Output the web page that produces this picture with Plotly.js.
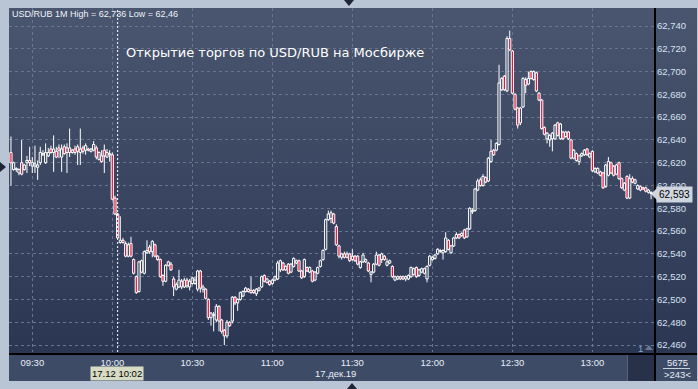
<!DOCTYPE html>
<html><head><meta charset="utf-8">
<script src="https://cdn.plot.ly/plotly-3.0.1.min.js"></script>
<style>
body{margin:0;background:#b9c4d4;}
#wrap{position:relative;width:698px;height:389px;overflow:hidden;background:#b9c4d4;}
.bg{position:absolute;}
#chart{position:absolute;left:0;top:0;width:698px;height:389px;}
</style></head><body>
<div id="wrap">
 <div class="bg" style="left:9px;top:8px;width:645px;height:345px;background:linear-gradient(#4a566f,#2b3653);"></div>
 <div class="bg" style="left:656px;top:8px;width:41px;height:345px;background:linear-gradient(#4a566f,#2b3653);"></div>
 <div class="bg" style="left:9px;top:355px;width:688px;height:26px;background:#3e4b66;"></div>
 <div class="bg" style="left:627px;top:355px;width:27px;height:26px;background:#27314a;border-left:1px solid #56627a;"></div>
 <div class="bg" style="left:654px;top:8px;width:2px;height:373px;background:#000;"></div>
 <div class="bg" style="left:9px;top:353px;width:688px;height:2px;background:#000;"></div>
 <div class="bg" style="left:663px;top:368px;width:27px;height:1px;background:#c9d3e0;"></div>
 <div class="bg" style="left:0px;top:162px;width:0;height:0;border-top:5px solid transparent;border-bottom:5px solid transparent;border-left:6px solid #1d2536;"></div>
 <div class="bg" style="left:344px;top:0px;width:0;height:0;border-left:5px solid transparent;border-right:5px solid transparent;border-top:6px solid #1d2536;"></div>
 <div class="bg" style="left:347px;top:383px;width:0;height:0;border-left:5px solid transparent;border-right:5px solid transparent;border-bottom:6px solid #1d2536;"></div>
 <div class="bg" style="left:645px;top:345px;width:0;height:0;border-left:4px solid transparent;border-right:4px solid transparent;border-bottom:5px solid #6a7690;"></div>
 <div class="bg" style="left:651px;top:187px;width:0;height:0;border-top:7px solid transparent;border-bottom:7px solid transparent;border-right:7px solid #cfd5de;"></div>
 <div id="chart"></div>
</div>
<script>
// ---- data (1-minute candles, USD/RUB, 17.12.2019) ----
const sessionDate = '2019-12-17';
const firstMinute = '09:22';
const open = [62.629,62.614,62.614,62.611,62.620,62.614,62.620,62.622,62.617,62.617,62.616,62.620,62.627,62.620,62.626,62.632,62.629,62.630,62.633,62.625,
62.634,62.629,62.633,62.629,62.632,62.634,62.629,62.633,62.631,62.632,62.630,62.631,62.633,62.623,62.626,62.631,62.625,62.627,62.627,62.589,
62.575,62.550,62.552,62.549,62.538,62.549,62.535,62.520,62.507,62.524,62.523,62.541,62.546,62.542,62.548,62.538,62.535,62.521,62.516,62.530,
62.531,62.518,62.509,62.511,62.516,62.511,62.517,62.511,62.514,62.514,62.509,62.525,62.509,62.509,62.500,62.484,62.486,62.482,62.494,62.482,
62.473,62.468,62.480,62.481,62.502,62.497,62.500,62.503,62.507,62.509,62.506,62.508,62.505,62.508,62.511,62.521,62.515,62.516,62.514,62.517,
62.518,62.526,62.532,62.526,62.531,62.524,62.529,62.532,62.534,62.525,62.520,62.528,62.524,62.525,62.517,62.523,62.529,62.535,62.544,62.570,
62.571,62.575,62.564,62.547,62.537,62.540,62.537,62.540,62.535,62.538,62.538,62.528,62.533,62.533,62.532,62.522,62.524,62.531,62.539,62.535,
62.538,62.530,62.532,62.529,62.517,62.518,62.520,62.518,62.518,62.518,62.520,62.522,62.528,62.521,62.524,62.523,62.518,62.530,62.535,62.536,
62.540,62.543,62.541,62.542,62.552,62.541,62.547,62.554,62.557,62.556,62.561,62.555,62.562,62.577,62.578,62.596,62.605,62.600,62.607,62.604,
62.621,62.631,62.631,62.636,62.684,62.696,62.683,62.729,62.718,62.680,62.668,62.655,62.669,62.693,62.689,62.700,62.693,62.699,62.681,62.675,
62.651,62.641,62.640,62.641,62.641,62.655,62.641,62.647,62.643,62.647,62.640,62.624,62.628,62.621,62.626,62.627,62.632,62.625,62.630,62.612,
62.611,62.612,62.611,62.599,62.609,62.620,62.617,62.610,62.620,62.606,62.596,62.608,62.589,62.606,62.602,62.597,62.599,62.597,62.598,62.594,
62.594];
const high = [62.643,62.621,62.616,62.615,62.640,62.619,62.626,62.634,62.625,62.635,62.622,62.634,62.631,62.637,62.633,62.635,62.644,62.634,62.636,62.636,
62.636,62.637,62.650,62.632,62.635,62.636,62.650,62.635,62.637,62.633,62.633,62.639,62.635,62.630,62.631,62.636,62.632,62.631,62.629,62.591,
62.576,62.573,62.554,62.551,62.550,62.555,62.536,62.521,62.534,62.535,62.543,62.552,62.548,62.552,62.549,62.539,62.536,62.522,62.531,62.534,
62.533,62.520,62.515,62.526,62.518,62.519,62.519,62.518,62.520,62.520,62.526,62.526,62.513,62.510,62.501,62.489,62.489,62.496,62.495,62.483,
62.474,62.482,62.481,62.503,62.503,62.501,62.507,62.508,62.511,62.510,62.520,62.509,62.510,62.511,62.521,62.522,62.519,62.517,62.518,62.521,
62.534,62.535,62.533,62.530,62.532,62.532,62.537,62.535,62.535,62.526,62.536,62.529,62.529,62.526,62.525,62.529,62.535,62.544,62.571,62.578,
62.578,62.576,62.566,62.548,62.541,62.542,62.542,62.541,62.544,62.539,62.539,62.534,62.541,62.536,62.533,62.525,62.532,62.542,62.540,62.541,
62.539,62.536,62.535,62.530,62.521,62.521,62.521,62.521,62.521,62.522,62.529,62.528,62.529,62.527,62.528,62.528,62.530,62.539,62.538,62.540,
62.545,62.544,62.544,62.559,62.553,62.548,62.555,62.559,62.558,62.559,62.562,62.563,62.581,62.580,62.598,62.606,62.607,62.610,62.608,62.625,
62.640,62.632,62.638,62.706,62.695,62.697,62.731,62.736,62.719,62.681,62.669,62.669,62.695,62.695,62.700,62.701,62.701,62.700,62.682,62.676,
62.652,62.647,62.645,62.647,62.654,62.656,62.655,62.648,62.648,62.648,62.641,62.632,62.629,62.627,62.629,62.632,62.633,62.629,62.631,62.616,
62.616,62.613,62.612,62.619,62.625,62.621,62.618,62.619,62.621,62.607,62.603,62.609,62.610,62.608,62.606,62.601,62.600,62.599,62.599,62.597,
62.595];
const low = [62.600,62.613,62.612,62.609,62.609,62.613,62.611,62.617,62.611,62.611,62.605,62.618,62.626,62.619,62.625,62.628,62.612,62.624,62.624,62.612,
62.627,62.611,62.625,62.628,62.627,62.618,62.618,62.628,62.627,62.630,62.629,62.630,62.623,62.622,62.620,62.611,62.624,62.621,62.587,62.574,
62.553,62.549,62.549,62.537,62.537,62.537,62.522,62.505,62.506,62.523,62.522,62.540,62.540,62.537,62.537,62.534,62.519,62.512,62.515,62.529,
62.525,62.503,62.508,62.510,62.509,62.510,62.510,62.508,62.513,62.513,62.507,62.506,62.506,62.500,62.482,62.477,62.472,62.480,62.472,62.470,
62.460,62.466,62.476,62.479,62.495,62.490,62.499,62.502,62.506,62.506,62.505,62.505,62.503,62.507,62.510,62.515,62.514,62.512,62.513,62.516,
62.517,62.524,62.525,62.525,62.522,62.523,62.528,62.531,62.524,62.518,62.519,62.524,62.523,62.515,62.516,62.522,62.528,62.534,62.543,62.569,
62.567,62.566,62.547,62.536,62.535,62.536,62.536,62.533,62.534,62.533,62.530,62.527,62.532,62.532,62.524,62.515,62.523,62.530,62.529,62.532,
62.534,62.529,62.531,62.519,62.516,62.517,62.517,62.517,62.516,62.517,62.519,62.521,62.519,62.520,62.523,62.522,62.515,62.529,62.534,62.535,
62.539,62.541,62.535,62.541,62.543,62.540,62.546,62.553,62.553,62.555,62.553,62.554,62.561,62.575,62.577,62.595,62.599,62.599,62.602,62.603,
62.620,62.626,62.630,62.635,62.683,62.683,62.682,62.718,62.680,62.666,62.650,62.653,62.668,62.681,62.688,62.693,62.692,62.682,62.674,62.649,
62.644,62.637,62.634,62.630,62.640,62.643,62.640,62.640,62.642,62.640,62.623,62.623,62.621,62.618,62.625,62.626,62.626,62.624,62.612,62.611,
62.610,62.608,62.597,62.598,62.608,62.610,62.608,62.609,62.605,62.597,62.595,62.588,62.588,62.602,62.601,62.596,62.595,62.596,62.594,62.593,
62.588];
const close = [62.620,62.620,62.615,62.614,62.610,62.618,62.622,62.620,62.620,62.619,62.618,62.629,62.628,62.629,62.629,62.629,62.632,62.625,62.631,62.632,
62.628,62.633,62.629,62.631,62.629,62.630,62.632,62.630,62.635,62.631,62.632,62.636,62.625,62.629,62.621,62.626,62.629,62.628,62.588,62.575,
62.554,62.552,62.550,62.538,62.548,62.538,62.523,62.506,62.533,62.534,62.542,62.543,62.542,62.551,62.538,62.535,62.520,62.516,62.530,62.533,
62.526,62.511,62.513,62.517,62.511,62.517,62.512,62.516,62.519,62.517,62.525,62.510,62.511,62.501,62.484,62.488,62.487,62.494,62.481,62.472,
62.468,62.480,62.477,62.502,62.497,62.500,62.506,62.507,62.510,62.507,62.508,62.506,62.509,62.510,62.520,62.516,62.518,62.513,62.517,62.520,
62.532,62.534,62.526,62.529,62.523,62.531,62.536,62.534,62.525,62.519,62.535,62.525,62.528,62.516,62.524,62.528,62.534,62.543,62.570,62.575,
62.576,62.567,62.548,62.538,62.540,62.537,62.540,62.534,62.538,62.534,62.531,62.533,62.539,62.535,62.525,62.524,62.531,62.539,62.530,62.540,
62.535,62.533,62.534,62.520,62.520,62.520,62.518,62.520,62.520,62.521,62.528,62.527,62.520,62.526,62.527,62.527,62.529,62.538,62.537,62.539,
62.544,62.542,62.543,62.554,62.544,62.547,62.554,62.557,62.554,62.558,62.554,62.562,62.580,62.578,62.597,62.604,62.600,62.608,62.603,62.624,
62.630,62.627,62.637,62.690,62.694,62.684,62.729,62.719,62.681,62.667,62.653,62.668,62.694,62.688,62.694,62.694,62.700,62.683,62.675,62.650,
62.645,62.646,62.644,62.646,62.653,62.644,62.654,62.641,62.647,62.641,62.624,62.631,62.622,62.626,62.628,62.631,62.627,62.628,62.613,62.615,
62.615,62.609,62.598,62.618,62.621,62.611,62.609,62.618,62.606,62.598,62.602,62.589,62.606,62.603,62.605,62.600,62.596,62.598,62.595,62.596,
62.593];
const xTicks = ['09:30','10:00','10:30','11:00','11:30','12:00','12:30','13:00'];
const cursorTime = '10:02';
const cursorLabel = '17.12 10:02';
const dateLabel = '17.дек.19';
const titleText = 'Открытие торгов по USD/RUB на Мосбирже';
const volumeText = '5675';
const countText = '>243<';

// ---- build ----
function pad(n){return (n<10?'0':'')+n;}
const [h0,m0] = firstMinute.split(':').map(Number);
const times = open.map((_,i)=>{const t=h0*60+m0+i;return sessionDate+' '+pad(Math.floor(t/60))+':'+pad(t%60);});
const fmt = v => v.toFixed(3).replace('.',',');
const hi = Math.max(...high), lo = Math.min(...low), last = close[close.length-1];
const fmtShort = v => String(+v.toFixed(3)).replace('.',',');

const UP_FILL = 'rgba(0,0,0,0)', DOWN_FILL = '#e5123d', EDGE = '#ffffff';
const bodyLo = open.map((o,i)=>Math.min(o,close[i]));
const bodyHi = open.map((o,i)=>Math.max(o,close[i]));
// wicks: low->body bottom, body top->high
const wx=[], wy=[];
times.forEach((t,i)=>{
  wx.push(t,t,null,t,t,null);
  wy.push(low[i],bodyLo[i],null,bodyHi[i],high[i],null);
});
const wicks = {type:'scatter', mode:'lines', x:wx, y:wy, connectgaps:false,
  line:{color:EDGE, width:1}, hoverinfo:'skip'};
const bodies = {type:'bar', x:times, base:bodyLo, y:bodyHi.map((h,i)=>h-bodyLo[i]),
  width:50000,
  marker:{color:close.map((c,i)=>c>=open[i]?UP_FILL:DOWN_FILL), line:{color:EDGE, width:1}},
  hoverinfo:'skip'};

const L=9, R=654, T=8, B=352;
const px = x => (x-L)/(R-L);
const py = y => 1-(y-T)/(B-T);
const FAM = 'Liberation Sans, Arial, sans-serif';
const small = {family:FAM, size:9.5, color:'#e8eef6'};

const grid = {showgrid:true, gridcolor:'#67758f', griddash:'3px,3px', gridwidth:1, zeroline:false, showline:false, ticks:''};
const layout = {
  width:698, height:389, margin:{l:L, r:698-R, t:T, b:389-B, pad:0},
  paper_bgcolor:'rgba(0,0,0,0)', plot_bgcolor:'rgba(0,0,0,0)',
  separators:', ', showlegend:false, hovermode:false, barmode:'overlay',
  xaxis:Object.assign({type:'date', range:[sessionDate+' 09:21:16', sessionDate+' 13:23:06'],
    tickmode:'array', tickvals:xTicks.map(t=>sessionDate+' '+t), ticktext:xTicks,
    tickfont:small, ticklabelstandoff:3, fixedrange:true}, grid),
  yaxis:Object.assign({side:'right', range:[62.4539,62.7558], tick0:62.46, dtick:0.02, tickformat:'.3f',
    tickfont:Object.assign({}, small, {color:'#d6e2f2'}), ticklabelstandoff:2, fixedrange:true}, grid),
  shapes:[
    {type:'line', xref:'x', yref:'paper', x0:sessionDate+' '+cursorTime, x1:sessionDate+' '+cursorTime, y0:0, y1:1,
     line:{color:'#ffffff', width:1, dash:'2px,2px'}}
  ],
  annotations:[
    {xref:'paper', yref:'paper', x:px(10), y:py(14), xanchor:'left', yanchor:'middle', showarrow:false,
     text:'USD/RUB 1M High = '+fmt(hi)+' Low = '+fmtShort(lo), font:{family:FAM, size:9, color:'#eef2f8'}},
    {xref:'paper', yref:'paper', x:px(275), y:py(52), xanchor:'center', yanchor:'middle', showarrow:false,
     text:titleText, font:{family:'DejaVu Sans, sans-serif', size:13, color:'#ffffff'}},
    {xref:'paper', yref:'paper', x:px(117), y:py(374), xanchor:'center', yanchor:'middle', showarrow:false,
     text:cursorLabel, bgcolor:'#d7dbc3', borderpad:1, font:{family:FAM, size:9.5, color:'#000000'}},
    {xref:'paper', yref:'paper', x:px(335), y:py(374), xanchor:'center', yanchor:'middle', showarrow:false,
     text:dateLabel, font:small},
    {xref:'paper', yref:'paper', x:px(677), y:py(362), xanchor:'center', yanchor:'middle', showarrow:false,
     text:volumeText, font:small},
    {xref:'paper', yref:'paper', x:px(677), y:py(375), xanchor:'center', yanchor:'middle', showarrow:false,
     text:countText, font:small},
    {xref:'paper', yref:'paper', x:px(640), y:py(348), xanchor:'center', yanchor:'middle', showarrow:false,
     text:'1', font:Object.assign({}, small, {color:'#7ea8d8'})},
    {xref:'paper', yref:'paper', x:px(674), y:py(194), xanchor:'center', yanchor:'middle', showarrow:false,
     text:fmt(last), bgcolor:'#cfd5de', borderpad:2, font:{family:FAM, size:10, color:'#000000'}}
  ]
};
Plotly.newPlot('chart', [wicks, bodies], layout, {staticPlot:true, displayModeBar:false});
</script>
</body></html>
